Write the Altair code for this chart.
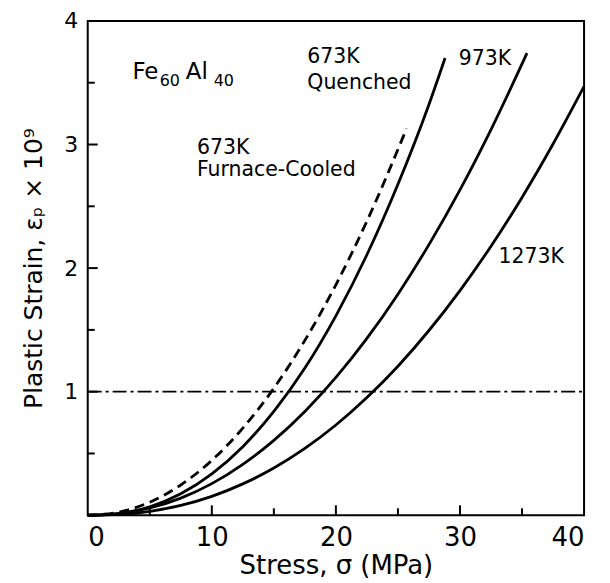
import altair as alt
import pandas as pd

# ---- data ----
fc_x = [0, 2.5, 5, 7.5, 10, 12.5, 15, 17.5, 20, 22.5, 25.7]
fc_y = [0, 0.025, 0.106, 0.245, 0.444, 0.705, 1.028, 1.415, 1.865, 2.38, 3.13]

q_x = [0, 2.5, 5, 7.5, 10, 12.5, 15, 17.5, 20, 22.5, 25, 27.5, 28.8]
q_y = [0, 0.014, 0.069, 0.174, 0.335, 0.555, 0.84, 1.191, 1.614, 2.108, 2.678, 3.324, 3.70]

k973_x = [0, 2.5, 5, 7.5, 10, 12.5, 15, 17.5, 20, 22.5, 25, 27.5, 30, 32.5, 35.4]
k973_y = [0, 0.014, 0.059, 0.139, 0.256, 0.412, 0.606, 0.84, 1.115, 1.431, 1.789, 2.19, 2.633, 3.121, 3.74]

k1273_x = [0, 2.5, 5, 7.5, 10, 12.5, 15, 17.5, 20, 22.5, 25, 27.5, 30, 32.5, 35, 37.5, 40]
k1273_y = [0, 0.007, 0.032, 0.08, 0.153, 0.254, 0.382, 0.541, 0.73, 0.952, 1.206, 1.495, 1.818, 2.177, 2.572, 3.004, 3.47]

ref_level = [1.0]

x_labels = [0, 10, 20, 30, 40]
y_labels = [1, 2, 3, 4]
x_major = [10, 20, 30]
x_minor = [5, 15, 25, 35]
y_major = [1, 2, 3]
y_minor = [0.5, 1.5, 2.5, 3.5]

ann_text = ["673K", "Furnace-Cooled", "673K", "Quenched", "973K", "1273K", "Fe", "60", "Al", "40"]
ann_x = [8.8, 8.8, 17.7, 17.7, 29.9, 33.1, 3.6, 5.8, 7.9, 10.15]
ann_y = [2.925, 2.745, 3.66, 3.45, 3.645, 2.04, 3.53, 3.475, 3.53, 3.475]
ann_size = [20.5, 20.5, 20.5, 20.5, 20.5, 20.5, 23, 16, 23, 16]

W, H = 498, 496
FONT = "DejaVu Sans"

# ---- tables ----
solid = pd.concat([
    pd.DataFrame({"s": "673K Quenched", "x": q_x, "y": q_y}),
    pd.DataFrame({"s": "973K", "x": k973_x, "y": k973_y}),
    pd.DataFrame({"s": "1273K", "x": k1273_x, "y": k1273_y}),
])
dashed = pd.DataFrame({"s": "673K Furnace-Cooled", "x": fc_x, "y": fc_y})
ann = pd.DataFrame({"t": ann_text, "x": ann_x, "y": ann_y, "size": ann_size})

xs = alt.Scale(domain=[0, 40], nice=False, zero=False)
ys = alt.Scale(domain=[0, 4], nice=False, zero=False)

xax = alt.Axis(values=x_labels, format="d", labelPadding=9, labelFontSize=26,
               title="Stress, σ (MPa)", titleFontSize=26, titlePadding=2)
yax = alt.Axis(values=y_labels, format="d", labelPadding=10, labelFontSize=22,
               title="Plastic Strain, εₚ × 10⁹", titleFontSize=25, titlePadding=17)

base_x = alt.X("x:Q", scale=xs, axis=xax)
base_y = alt.Y("y:Q", scale=ys, axis=yax)

solid_lines = alt.Chart(solid).mark_line(
    color="black", strokeWidth=2.8, interpolate="monotone"
).encode(x=base_x, y=base_y, detail="s:N")

dashed_line = alt.Chart(dashed).mark_line(
    color="black", strokeWidth=2.8, interpolate="monotone", strokeDash=[10, 6]
).encode(x=alt.X("x:Q", scale=xs), y=alt.Y("y:Q", scale=ys))

ref = alt.Chart(pd.DataFrame({"y": ref_level})).mark_rule(
    color="black", strokeWidth=1.8, strokeDash=[14, 4, 3, 4]
).encode(y=alt.Y("y:Q", scale=ys), x=alt.value(0), x2=alt.value(W))

xmaj = alt.Chart(pd.DataFrame({"x": x_major})).mark_rule(color="black", strokeWidth=2).encode(
    x=alt.X("x:Q", scale=xs), y=alt.value(H), y2=alt.value(H - 10))
xmin = alt.Chart(pd.DataFrame({"x": x_minor})).mark_rule(color="black", strokeWidth=2).encode(
    x=alt.X("x:Q", scale=xs), y=alt.value(H), y2=alt.value(H - 7))
ymaj = alt.Chart(pd.DataFrame({"y": y_major})).mark_rule(color="black", strokeWidth=2).encode(
    y=alt.Y("y:Q", scale=ys), x=alt.value(0), x2=alt.value(10))
ymin = alt.Chart(pd.DataFrame({"y": y_minor})).mark_rule(color="black", strokeWidth=2).encode(
    y=alt.Y("y:Q", scale=ys), x=alt.value(0), x2=alt.value(7))

labels = alt.Chart(ann).mark_text(
    align="left", baseline="alphabetic", font=FONT, color="black"
).encode(
    x=alt.X("x:Q", scale=xs), y=alt.Y("y:Q", scale=ys),
    text="t:N", size=alt.Size("size:Q", scale=None, legend=None)
)

chart = alt.layer(
    ref, dashed_line, solid_lines, xmaj, xmin, ymaj, ymin, labels
).properties(
    width=W, height=H,
    autosize=alt.AutoSizeParams(type="none"),
    padding={"left": 80, "top": 12, "right": 18, "bottom": 67},
).configure_view(
    stroke="black", strokeWidth=2
).configure_axis(
    domain=False, ticks=False, grid=False,
    labelFont=FONT, labelColor="black",
    titleFont=FONT, titleFontWeight="normal", titleColor="black",
)

chart.save("out.html", embed_options={"renderer": "svg", "actions": False})
